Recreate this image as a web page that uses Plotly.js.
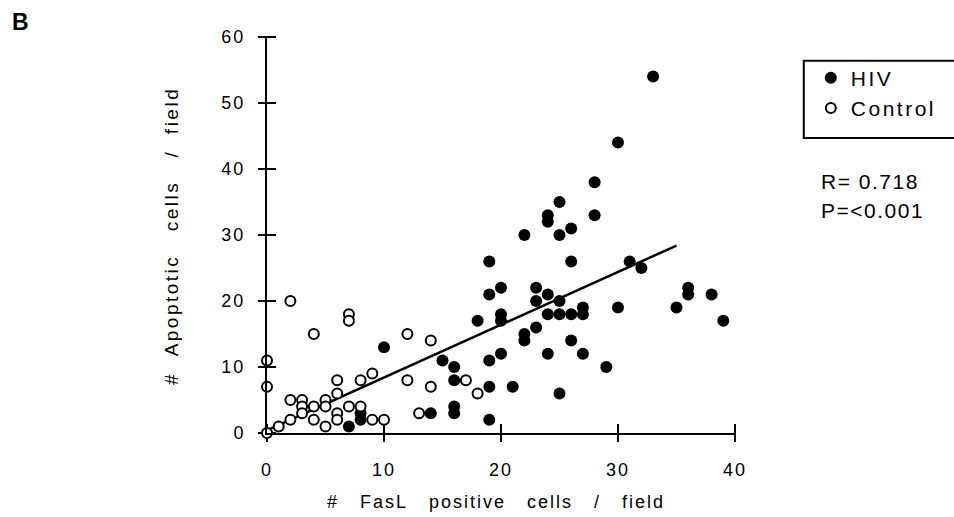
<!DOCTYPE html>
<html>
<head>
<meta charset="utf-8">
<script src="https://cdn.plot.ly/plotly-3.0.1.min.js"></script>
<style>
  html, body { margin: 0; padding: 0; background: #fff; }
  #chart { width: 954px; height: 517px; }
  .xtick text, .ytick text { letter-spacing: 2px; }
  .annotation-text { letter-spacing: 2px; }
  g.annotation[data-index="1"] .annotation-text { letter-spacing: 2.5px; }
  g.annotation[data-index="2"] .annotation-text,
  g.annotation[data-index="3"] .annotation-text { letter-spacing: 1.5px; }
  g.annotation[data-index="4"] .annotation-text { letter-spacing: 0; }
  .legendtext { letter-spacing: 2.5px; }
</style>
</head>
<body>
<div id="chart"></div>
<script>
// HIV patients (filled circles)
const hivX = [10,15,14,7,8,8,16,16,16,16,19,19,20,18,20,20,19,20,19,21,19,22,22,22,23,23,23,24,24,24,24,24,25,25,25,25,25,26,26,26,26,27,27,27,28,28,33,30,31,32,30,35,36,36,38,39,29];
const hivY = [13,11,3,1,3,2,10,8,4,3,26,21,22,17,18,17,11,12,7,7,2,30,15,14,22,20,16,33,32,21,18,12,35,30,20,18,6,31,26,18,14,19,18,12,38,33,54,44,26,25,19,19,22,21,21,17,10];
// Controls (open circles)
const ctlX = [2,7,7,4,0,0,0,1,2,2,3,3,3,4,4,5,5,5,6,6,6,6,7,8,8,9,9,10,12,14,12,14,13,17,18];
const ctlY = [20,18,17,15,11,7,0,1,2,5,5,4,3,4,2,5,4,1,8,6,3,2,4,8,4,9,2,2,15,14,8,7,3,8,6];
// Regression line end points
const fitX = [0, 35];
const fitY = [0.4, 28.4];
// Axis ticks
const xTicks = [0, 10, 20, 30, 40];
const yTicks = [0, 10, 20, 30, 40, 50, 60];
const seriesNames = ['HIV', 'Control'];
const xTitle = '#\u00a0\u00a0\u00a0FasL\u00a0\u00a0\u00a0positive\u00a0\u00a0\u00a0cells\u00a0\u00a0\u00a0/\u00a0\u00a0\u00a0field';
const yTitle = '#\u00a0\u00a0Apoptotic\u00a0\u00a0\u00a0cells\u00a0\u00a0\u00a0/\u00a0\u00a0field';
const statR = 'R= 0.718';
const statP = 'P=<0.001';
const panelLabel = 'B';

const FONT = 'Liberation Sans, Arial, Helvetica, sans-serif';

// crossing tick marks, placed through the axes' own scales from the tick arrays
const xTickMarkY = xTicks.map(() => 0);
const yTickMarkX = yTicks.map(() => 0);

const traces = [
  {
    type: 'scatter', mode: 'markers', x: xTicks, y: xTickMarkY,
    showlegend: false, hoverinfo: 'skip', cliponaxis: false,
    marker: { symbol: 'line-ns-open', size: 13, color: '#000', line: { color: '#000', width: 2 } }
  },
  {
    type: 'scatter', mode: 'markers', x: yTickMarkX, y: yTicks,
    showlegend: false, hoverinfo: 'skip', cliponaxis: false,
    marker: { symbol: 'line-ew-open', size: 13, color: '#000', line: { color: '#000', width: 2 } }
  },
  {
    type: 'scatter', mode: 'lines', x: fitX, y: fitY,
    showlegend: false, hoverinfo: 'skip',
    line: { color: '#000', width: 2.5 }, cliponaxis: false
  },
  {
    type: 'scatter', mode: 'markers', name: seriesNames[0],
    x: hivX, y: hivY, cliponaxis: false,
    marker: { color: '#000', size: 12, line: { width: 0 } }
  },
  {
    type: 'scatter', mode: 'markers', name: seriesNames[1],
    x: ctlX, y: ctlY, cliponaxis: false,
    marker: { color: '#fff', size: 10, line: { color: '#000', width: 2 } }
  }
];

const axBase = {
  showgrid: false, zeroline: false, showline: true,
  linecolor: '#000', linewidth: 2,
  ticks: '',
  tickfont: { family: FONT, size: 18, color: '#000' }
};

const layout = {
  width: 954, height: 517,
  margin: { l: 267, r: 219, t: 37, b: 84 },
  paper_bgcolor: '#fff', plot_bgcolor: '#fff',
  showlegend: true,
  xaxis: Object.assign({}, axBase, {
    range: [0, 40], tickvals: xTicks, ticklabelstandoff: 19
  }),
  yaxis: Object.assign({}, axBase, {
    range: [0, 60], tickvals: yTicks, ticklabelstandoff: 16
  }),
  legend: {
    x: 1.162, xanchor: 'left', y: 0.948, yanchor: 'top',
    bgcolor: 'rgba(0,0,0,0)', borderwidth: 0,
    font: { family: FONT, size: 21, color: '#000' },
    traceorder: 'normal'
  },
  shapes: [
    { type: 'rect', xref: 'paper', yref: 'paper',
      x0: 1.147, x1: 1.5, y0: 0.745, y1: 0.94,
      line: { color: '#000', width: 2 }, fillcolor: 'rgba(0,0,0,0)', layer: 'above' }
  ],
  annotations: [
    { xref: 'paper', yref: 'paper', x: 0.49, y: -0.175, xanchor: 'center', yanchor: 'middle',
      text: xTitle, showarrow: false, font: { family: FONT, size: 18, color: '#000' } },
    { xref: 'paper', yref: 'paper', x: -0.205, y: 0.497, xanchor: 'center', yanchor: 'middle',
      text: yTitle, textangle: -90, showarrow: false, font: { family: FONT, size: 19, color: '#000' } },
    { xref: 'paper', yref: 'paper', x: 1.175, y: 0.634, xanchor: 'left', yanchor: 'middle',
      text: statR, showarrow: false, font: { family: FONT, size: 21, color: '#000' } },
    { xref: 'paper', yref: 'paper', x: 1.175, y: 0.561, xanchor: 'left', yanchor: 'middle',
      text: statP, showarrow: false, font: { family: FONT, size: 21, color: '#000' } },
    { xref: 'paper', yref: 'paper', x: -0.551, y: 1.038, xanchor: 'left', yanchor: 'middle',
      text: '<b>' + panelLabel + '</b>', showarrow: false, font: { family: FONT, size: 23, color: '#000' } }
  ]
};

Plotly.newPlot('chart', traces, layout, { displayModeBar: false, staticPlot: true });
</script>
</body>
</html>
